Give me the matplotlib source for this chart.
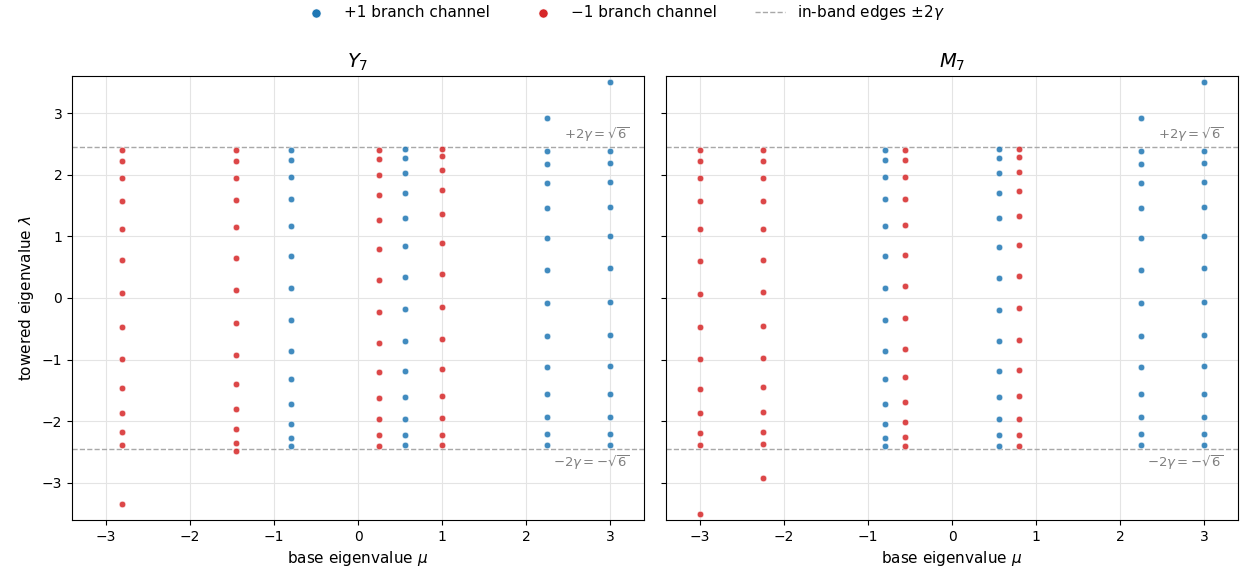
import numpy as np
import matplotlib.pyplot as plt

# base eigenvalues mu for each channel column
y7_mu_plus = [-0.802, 0.555, 2.247, 3.0]
y7_mu_minus = [-2.802, -1.445, 0.247, 1.0]
m7_mu_plus = [-0.802, 0.555, 2.247, 3.0]
m7_mu_minus = [-3.0, -2.247, -0.555, 0.802]

# towered eigenvalues lambda, one list per column (same order as mu lists)
y7_lam_plus = [
    [2.395, 2.232, 1.962, 1.605, 1.173, 0.686, 0.168, -0.351, -0.859, -1.319, -1.719, -2.043, -2.270, -2.405],
    [2.411, 2.265, 2.022, 1.697, 1.297, 0.838, 0.335, -0.184, -0.692, -1.178, -1.600, -1.962, -2.222, -2.389],
    [2.919, 2.384, 2.178, 1.859, 1.454, 0.978, 0.459, -0.081, -0.616, -1.114, -1.562, -1.935, -2.211, -2.384],
    [3.503, 2.384, 2.189, 1.881, 1.476, 1.000, 0.481, -0.059, -0.600, -1.103, -1.557, -1.935, -2.211, -2.384],
]
y7_lam_minus = [
    [2.395, 2.222, 1.941, 1.568, 1.114, 0.611, 0.076, -0.465, -0.989, -1.465, -1.865, -2.178, -2.378, -3.335],
    [2.395, 2.227, 1.951, 1.584, 1.146, 0.649, 0.124, -0.411, -0.924, -1.395, -1.800, -2.124, -2.346, -2.481],
    [2.405, 2.249, 2.000, 1.665, 1.259, 0.795, 0.297, -0.222, -0.724, -1.200, -1.616, -1.968, -2.227, -2.395],
    [2.422, 2.297, 2.076, 1.757, 1.357, 0.892, 0.384, -0.146, -0.665, -1.151, -1.584, -1.951, -2.222, -2.389],
]
m7_lam_plus = [
    [2.400, 2.232, 1.962, 1.605, 1.173, 0.686, 0.168, -0.351, -0.859, -1.319, -1.719, -2.043, -2.270, -2.405],
    [2.411, 2.265, 2.022, 1.697, 1.292, 0.832, 0.330, -0.189, -0.697, -1.178, -1.605, -1.962, -2.222, -2.395],
    [2.919, 2.384, 2.178, 1.859, 1.454, 0.978, 0.459, -0.081, -0.616, -1.114, -1.562, -1.935, -2.211, -2.384],
    [3.503, 2.384, 2.189, 1.881, 1.476, 1.000, 0.481, -0.059, -0.600, -1.103, -1.557, -1.935, -2.211, -2.384],
]
m7_lam_minus = [
    [2.395, 2.222, 1.941, 1.568, 1.114, 0.605, 0.070, -0.470, -0.995, -1.470, -1.870, -2.184, -2.378, -3.497],
    [2.395, 2.222, 1.946, 1.573, 1.124, 0.622, 0.092, -0.454, -0.973, -1.449, -1.854, -2.168, -2.373, -2.914],
    [2.400, 2.232, 1.968, 1.611, 1.184, 0.703, 0.189, -0.324, -0.827, -1.286, -1.692, -2.016, -2.254, -2.405],
    [2.416, 2.281, 2.049, 1.730, 1.330, 0.865, 0.362, -0.162, -0.676, -1.162, -1.595, -1.957, -2.227, -2.395],
]

edge = np.sqrt(6)  # 2*gamma

fig = plt.figure(figsize=(12.46, 5.75), dpi=100)
ax1 = fig.add_axes([0.0578, 0.0957, 0.4591, 0.7721])
ax2 = fig.add_axes([0.5345, 0.0957, 0.4591, 0.7721], sharey=ax1)

panels = [
    (ax1, r"$Y_7$", y7_mu_plus, y7_lam_plus, y7_mu_minus, y7_lam_minus),
    (ax2, r"$M_7$", m7_mu_plus, m7_lam_plus, m7_mu_minus, m7_lam_minus),
]

for ax, title, mu_p, lam_p, mu_m, lam_m in panels:
    xp = np.concatenate([[m] * len(l) for m, l in zip(mu_p, lam_p)])
    yp = np.concatenate(lam_p)
    xm = np.concatenate([[m] * len(l) for m, l in zip(mu_m, lam_m)])
    ym = np.concatenate(lam_m)
    ax.scatter(xp, yp, s=22, color="tab:blue", alpha=0.85, edgecolors="white",
               linewidths=0.4, zorder=3, label="+1 branch channel")
    ax.scatter(xm, ym, s=22, color="tab:red", alpha=0.85, edgecolors="white",
               linewidths=0.4, zorder=3, label="\u22121 branch channel")
    ax.axhline(edge, color="#a8a8a8", ls="--", lw=1.0, zorder=2, label=r"in-band edges $\pm2\gamma$")
    ax.axhline(-edge, color="#a8a8a8", ls="--", lw=1.0, zorder=2)
    ax.text(0.975, edge + 0.05, r"$+2\gamma=\sqrt{6}$", transform=ax.get_yaxis_transform(),
            ha="right", va="bottom", color="gray", fontsize=9.5)
    ax.text(0.975, -edge - 0.06, r"$-2\gamma=-\sqrt{6}$", transform=ax.get_yaxis_transform(),
            ha="right", va="top", color="gray", fontsize=9.5)
    ax.set_title(title, fontsize=14)
    ax.set_xlabel(r"base eigenvalue $\mu$", fontsize=11)
    ax.set_xlim(-3.4, 3.4)
    ax.set_ylim(-3.6, 3.6)
    ax.set_xticks([-3, -2, -1, 0, 1, 2, 3])
    ax.set_yticks([-3, -2, -1, 0, 1, 2, 3])
    ax.grid(True, color="#e4e4e4", lw=0.8)
    ax.set_axisbelow(True)
    ax.tick_params(labelsize=10)

ax1.set_ylabel(r"towered eigenvalue $\lambda$", fontsize=11)
plt.setp(ax2.get_yticklabels(), visible=False)

handles, labels = ax1.get_legend_handles_labels()
leg = fig.legend(handles, labels, loc="upper center", ncol=3, frameon=False,
                 bbox_to_anchor=(0.5, 1.018), fontsize=11, columnspacing=2.5,
                 markerscale=1.4)
for lh in leg.legend_handles:
    lh.set_alpha(1)

fig.savefig("out.png", dpi=100)
